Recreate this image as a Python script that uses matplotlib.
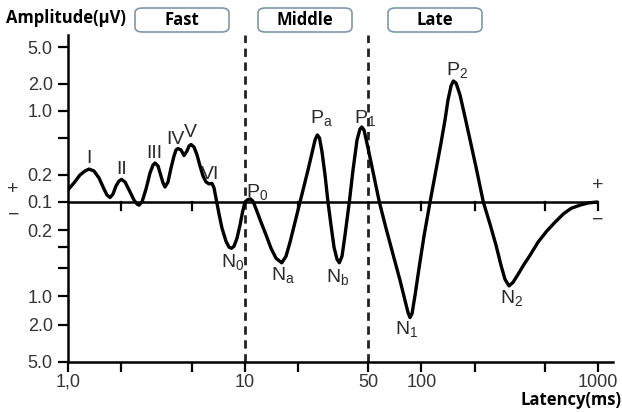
import numpy as np
import matplotlib
matplotlib.use("Agg")
import matplotlib.pyplot as plt
from matplotlib.patches import FancyBboxPatch

plt.rcParams['font.family'] = ['Liberation Sans', 'DejaVu Sans']
plt.rcParams['mathtext.fontset'] = 'custom'
plt.rcParams['mathtext.rm'] = 'Liberation Sans'
plt.rcParams['mathtext.it'] = 'Liberation Sans'

# waveform: latency (ms) and amplitude (uV, sign = side of baseline)
latency = [1.00, 1.081, 1.169, 1.248, 1.315, 1.403, 1.497, 1.598, 1.663, 1.729,
           1.797, 1.869, 1.944, 2.008, 2.102, 2.214, 2.363, 2.458, 2.522, 2.623,
           2.764, 2.911, 3.027, 3.107, 3.231, 3.360, 3.449, 3.540, 3.681, 3.828,
           3.980, 4.086, 4.194, 4.361, 4.535, 4.716, 4.840, 4.968, 5.166, 5.372,
           5.585, 5.808, 6.039, 6.281, 6.531, 6.704, 6.943, 7.155, 7.439, 7.837,
           8.150, 8.419, 8.697, 9.045, 9.406, 9.719, 10.04, 10.44, 10.79, 11.14,
           11.66, 12.37, 13.29, 14.09, 15.04, 16.20, 17.13, 18.05, 19.26, 20.56,
           21.66, 22.82, 24.04, 25.00, 25.76, 26.51, 27.39, 28.48, 29.60, 30.78,
           32.02, 33.30, 34.31, 35.54, 36.95, 39.08, 41.02, 43.21, 44.93, 45.94,
           47.33, 49.87, 53.22, 57.79, 63.05, 69.09, 75.68, 80.77, 83.99, 86.20,
           88.49, 91.99, 96.92, 103.4, 111.9, 121.0, 129.1, 136.0, 141.4, 147.1,
           151.6, 157.0, 165.4, 176.5, 188.4, 203.7, 224.0, 244.5, 264.4, 282.1,
           297.2, 313.2, 329.9, 352.2, 380.9, 411.8, 457.1, 511.8, 570.3, 635.6,
           702.5, 790.0, 876.7, 985.8]
amplitude = [0.136, 0.162, 0.198, 0.219, 0.230, 0.219, 0.184, 0.139, 0.119, 0.112,
             0.122, 0.150, 0.170, 0.177, 0.166, 0.136, 0.105, -0.105, -0.108, 0.100,
             0.139, 0.208, 0.255, 0.268, 0.249, 0.193, 0.162, 0.146, 0.166, 0.236,
             0.320, 0.373, 0.387, 0.373, 0.324, 0.364, 0.412, 0.428, 0.402, 0.329,
             0.249, 0.193, 0.166, 0.158, 0.160, 0.143, 0.100, -0.134, -0.190, -0.261,
             -0.302, -0.310, -0.295, -0.242, -0.176, -0.128, -0.100, 0.1065, 0.108, 0.102,
             -0.122, -0.164, -0.231, -0.310, -0.396, -0.442, -0.377, -0.267, -0.164, 0.100,
             0.150, 0.225, 0.346, 0.480, 0.545, 0.505, 0.354, 0.198, 0.100, -0.176,
             -0.302, -0.406, -0.442, -0.377, -0.225, -0.100, 0.225, 0.480, 0.634, 0.667,
             0.618, 0.392, 0.214, 0.100, -0.190, -0.359, -0.680, -1.111, -1.493, -1.688,
             -1.530, -0.983, -0.506, -0.231, 0.100, 0.225, 0.445, 0.796, 1.321, 1.883,
             2.136, 2.031, 1.499, 0.859, 0.480, 0.242, -0.100, -0.172, -0.288, -0.470,
             -0.663, -0.778, -0.714, -0.587, -0.459, -0.368, -0.267, -0.204, -0.164, -0.134,
             -0.117, -0.108, -0.1025, -0.100]

# component labels and where they sit (latency, amplitude)
peak_names = ['I', 'II', 'III', 'IV', 'V', 'VI', 'P$_0$', 'N$_0$', 'N$_a$', 'P$_a$',
              'N$_b$', 'P$_1$', 'N$_1$', 'P$_2$', 'N$_2$']
peak_lat = [1.315, 2.013, 3.067, 4.058, 4.935, 6.363, 11.69, 8.585, 16.48, 27.28,
            33.73, 47.96, 82.6, 158.4, 324.3]
peak_amp = [0.297, 0.225, 0.337, 0.492, 0.573, 0.198, 0.130, -0.437, -0.601, 0.838,
            -0.632, 0.838, -2.21, 2.82, -1.058]

# axis ticks
x_ticks = [1, 2, 5, 10, 20, 50, 100, 200, 500, 1000]
x_labels = ['1,0', '', '', '10', '', '50', '100', '', '', '1000']
y_ticks = [5.0, 2.0, 1.0, 0.2, 0.1, -0.2, -1.0, -2.0, -5.0]
y_labels = ['5.0', '2.0', '1.0', '0.2', '0.1', '0.2', '1.0', '2.0', '5.0']
y_minor = [0.5, -0.3, -0.5]
boundaries = [10, 50]
stages = ['Fast', 'Middle', 'Late']

BASE = 0.1
DN = 1.035


def fwd(a):
    a = np.asarray(a, dtype=float)
    m = np.log10(np.maximum(np.abs(a), BASE) / BASE)
    return np.where(a >= 0, m, -m * DN)


def inv(t):
    t = np.asarray(t, dtype=float)
    return np.where(t >= 0, BASE * 10 ** t, -BASE * 10 ** (-t / DN))


W, H = 622, 412
fig = plt.figure(figsize=(W / 100, H / 100), dpi=100)
ax = fig.add_axes([68 / W, 50 / H, 545 / W, 327 / H])
ax.set_xscale('log')
ax.set_yscale('function', functions=(fwd, inv))
ax.set_xlim(1, 1214)
ax.set_ylim(-5.0, 6.84)

for s in ['top', 'right']:
    ax.spines[s].set_visible(False)
for s in ['left', 'bottom']:
    ax.spines[s].set_linewidth(1.8)

ax.set_xticks(x_ticks)
ax.set_xticklabels(x_labels)
ax.xaxis.set_minor_locator(matplotlib.ticker.NullLocator())
ax.set_yticks(y_ticks)
ax.set_yticklabels(y_labels)
ax.set_yticks(y_minor, minor=True)
ax.tick_params(axis='both', which='both', direction='out', length=7, width=1.6,
               labelsize=13, labelcolor='#333333', pad=4)
ax.tick_params(axis='x', pad=1.5)

# baseline with its small ticks
ax.hlines(BASE, x_ticks[0], x_ticks[-1], color='black', lw=1.8, zorder=3)
for xt in x_ticks[1:]:
    if xt in boundaries:
        continue
    ax.plot([xt, xt], [BASE, -0.122], color='black', lw=1.6, zorder=3)

for b in boundaries:
    ax.axvline(b, color='#222222', lw=2, ls=(0, (3, 2)), zorder=2)

ax.plot(latency, amplitude, color='black', lw=2.4, zorder=4, solid_capstyle='round')

for name, lx, ly in zip(peak_names, peak_lat, peak_amp):
    ax.text(lx, ly, name, ha='center', va='center', fontsize=14, color='#2a2a2a', zorder=5)

# header / footer text
bold = ['Open Sans', 'DejaVu Sans']
fig.text(6 / W, 1 - 18 / H, 'Amplitude(\u03bcV)', fontsize=12, fontweight='bold',
         family=bold, ha='left', va='center')
fig.text(621 / W, 1 - 405 / H, 'Latency(ms)', fontsize=12, fontweight='bold',
         family=bold, ha='right', va='baseline')

box_x = [135, 258, 388]
for name, bx in zip(stages, box_x):
    patch = FancyBboxPatch((bx / W, 1 - 32 / H), 94 / W, 24 / H,
                           boxstyle='round,pad=0,rounding_size=0.012',
                           transform=fig.transFigure, facecolor='white',
                           edgecolor='#7f97ad', lw=1.2)
    fig.patches.append(patch)
    fig.text((bx + 47) / W, 1 - 20 / H, name, fontsize=12, fontweight='bold',
             family=bold, ha='center', va='center')

fig.text(13 / W, 1 - 189 / H, '+', fontsize=14, color='#333333', ha='center', va='center')
fig.text(14 / W, 1 - 215 / H, '\u2212', fontsize=14, color='#333333', ha='center', va='center')
fig.text(598 / W, 1 - 185 / H, '+', fontsize=14, color='#333333', ha='center', va='center')
fig.text(598 / W, 1 - 220 / H, '\u2212', fontsize=14, color='#333333', ha='center', va='center')

fig.savefig('out.png', dpi=100)
